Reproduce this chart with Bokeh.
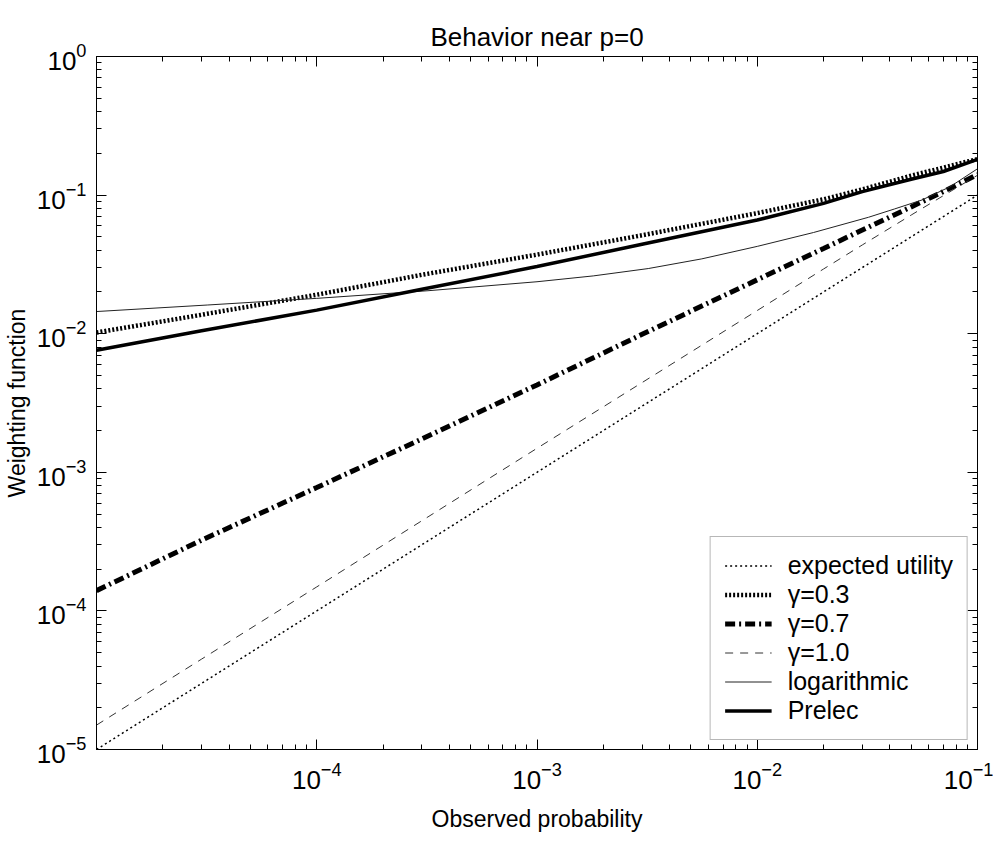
from bokeh.plotting import figure
from bokeh.models import (LogAxis, FixedTicker, Legend, LegendItem, Range1d,
                          CustomJSTickFormatter)
from bokeh.embed import file_html
from bokeh.resources import INLINE

# ---- data ----
prob = [1e-5, 3e-5, 1e-4, 3e-4, 1e-3, 3e-3, 1e-2, 2e-2, 3e-2, 5e-2, 7e-2, 1e-1]
w_expected_utility = [1e-5, 3e-5, 1e-4, 3e-4, 1e-3, 3e-3, 1e-2, 2e-2, 3e-2, 5e-2, 7e-2, 1e-1]
w_gamma03 = [1.02e-2, 1.37e-2, 1.91e-2, 2.66e-2, 3.72e-2, 5.13e-2, 7.41e-2, 9.33e-2, 0.110, 0.138, 0.158, 0.182]
w_gamma07 = [1.40e-4, 3.24e-4, 7.76e-4, 1.74e-3, 4.27e-3, 9.89e-3, 2.45e-2, 4.12e-2, 5.60e-2, 8.22e-2, 0.106, 0.141]
w_gamma10 = [1.50e-5, 4.49e-5, 1.49e-4, 4.47e-4, 1.49e-3, 4.44e-3, 1.47e-2, 2.93e-2, 4.37e-2, 7.18e-2, 9.91e-2, 0.139]
w_prelec = [7.59e-3, 1.05e-2, 1.48e-2, 2.09e-2, 3.05e-2, 4.42e-2, 6.61e-2, 8.71e-2, 0.106, 0.130, 0.148, 0.181]

prob_log = [1e-5, 3.2e-5, 1e-4, 3.2e-4, 1e-3, 1.8e-3, 3.2e-3, 5.6e-3, 1e-2,
            1.8e-2, 3.2e-2, 4.2e-2, 5.6e-2, 7.5e-2, 1e-1]
w_logarithmic = [1.445e-2, 1.611e-2, 1.799e-2, 2.042e-2, 2.371e-2, 2.612e-2, 2.951e-2,
                 3.467e-2, 4.266e-2, 5.37e-2, 6.918e-2, 7.943e-2, 9.226e-2, 0.1148, 0.1549]

x_major = [1e-4, 1e-3, 1e-2, 1e-1]
y_major = [1e-5, 1e-4, 1e-3, 1e-2, 1e-1, 1e0]
decades = [1e-5, 1e-4, 1e-3, 1e-2, 1e-1]
minor = [m * d for d in decades for m in range(2, 10)]

FONT = "Liberation Sans"

p = figure(x_axis_type="log", y_axis_type="log",
           x_range=Range1d(1e-5, 1e-1), y_range=Range1d(1e-5, 1e0),
           frame_width=881, frame_height=693,
           min_border_left=92, min_border_right=16,
           min_border_top=56, min_border_bottom=90,
           output_backend="svg", toolbar_location=None,
           title="Behavior near p=0")

p.title.align = "center"
p.title.text_font = FONT
p.title.text_font_size = "26px"
p.title.text_font_style = "normal"
p.title.text_color = "black"
p.outline_line_color = "black"
p.xgrid.visible = False
p.ygrid.visible = False
p.background_fill_color = "white"
p.border_fill_color = "white"

def style_axis(ax, major, labels=True):
    ax.ticker = FixedTicker(ticks=major, minor_ticks=minor)
    ax.major_tick_in = 10
    ax.major_tick_out = 0
    ax.minor_tick_in = 5
    ax.minor_tick_out = 0
    ax.axis_line_color = "black"
    ax.major_tick_line_color = "black"
    ax.minor_tick_line_color = "black"
    ax.major_label_text_font = FONT
    ax.major_label_text_font_size = "26px"
    ax.major_label_text_color = "black"
    ax.major_label_standoff = 12
    ax.axis_label_text_font = FONT
    ax.axis_label_text_font_size = "23px"
    ax.axis_label_text_font_style = "normal"
    ax.axis_label_text_color = "black"
    if not labels:
        ax.formatter = CustomJSTickFormatter(code="return ''")

style_axis(p.xaxis[0], x_major)
style_axis(p.yaxis[0], y_major)
p.xaxis[0].axis_label = "Observed probability"
p.yaxis[0].axis_label = "Weighting function"
p.xaxis[0].axis_label_standoff = 14
p.yaxis[0].major_label_standoff = 10
p.yaxis[0].axis_label_standoff = 4

top = LogAxis()
style_axis(top, x_major, labels=False)
p.add_layout(top, "above")
right = LogAxis()
style_axis(right, y_major, labels=False)
p.add_layout(right, "right")

r_eu = p.line(prob, w_expected_utility, line_color="black", line_width=1.5, line_dash="2 3")
r_g3 = p.line(prob, w_gamma03, line_color="black", line_width=4.5, line_dash="2 2")
r_g7 = p.line(prob, w_gamma07, line_color="black", line_width=5, line_dash="10 4 2 4")
r_g10 = p.line(prob, w_gamma10, line_color="#333333", line_width=1, line_dash="8 7")
r_log = p.line(prob_log, w_logarithmic, line_color="#222222", line_width=1)
r_pr = p.line(prob, w_prelec, line_color="black", line_width=3.5)

legend = Legend(items=[
    LegendItem(label="expected utility", renderers=[r_eu]),
    LegendItem(label="γ=0.3", renderers=[r_g3]),
    LegendItem(label="γ=0.7", renderers=[r_g7]),
    LegendItem(label="γ=1.0", renderers=[r_g10]),
    LegendItem(label="logarithmic", renderers=[r_log]),
    LegendItem(label="Prelec", renderers=[r_pr]),
], location="bottom_right")
legend.margin = 9
legend.padding = 14
legend.spacing = 0
legend.label_height = 29
legend.glyph_height = 29
legend.glyph_width = 47
legend.label_standoff = 16
legend.label_text_font = FONT
legend.label_text_font_size = "25px"
legend.label_text_color = "black"
legend.border_line_color = "#707070"
legend.border_line_width = 1
legend.background_fill_color = "white"
legend.background_fill_alpha = 1.0
p.add_layout(legend, "center")

open("out.html", "w").write(file_html(p, INLINE))
